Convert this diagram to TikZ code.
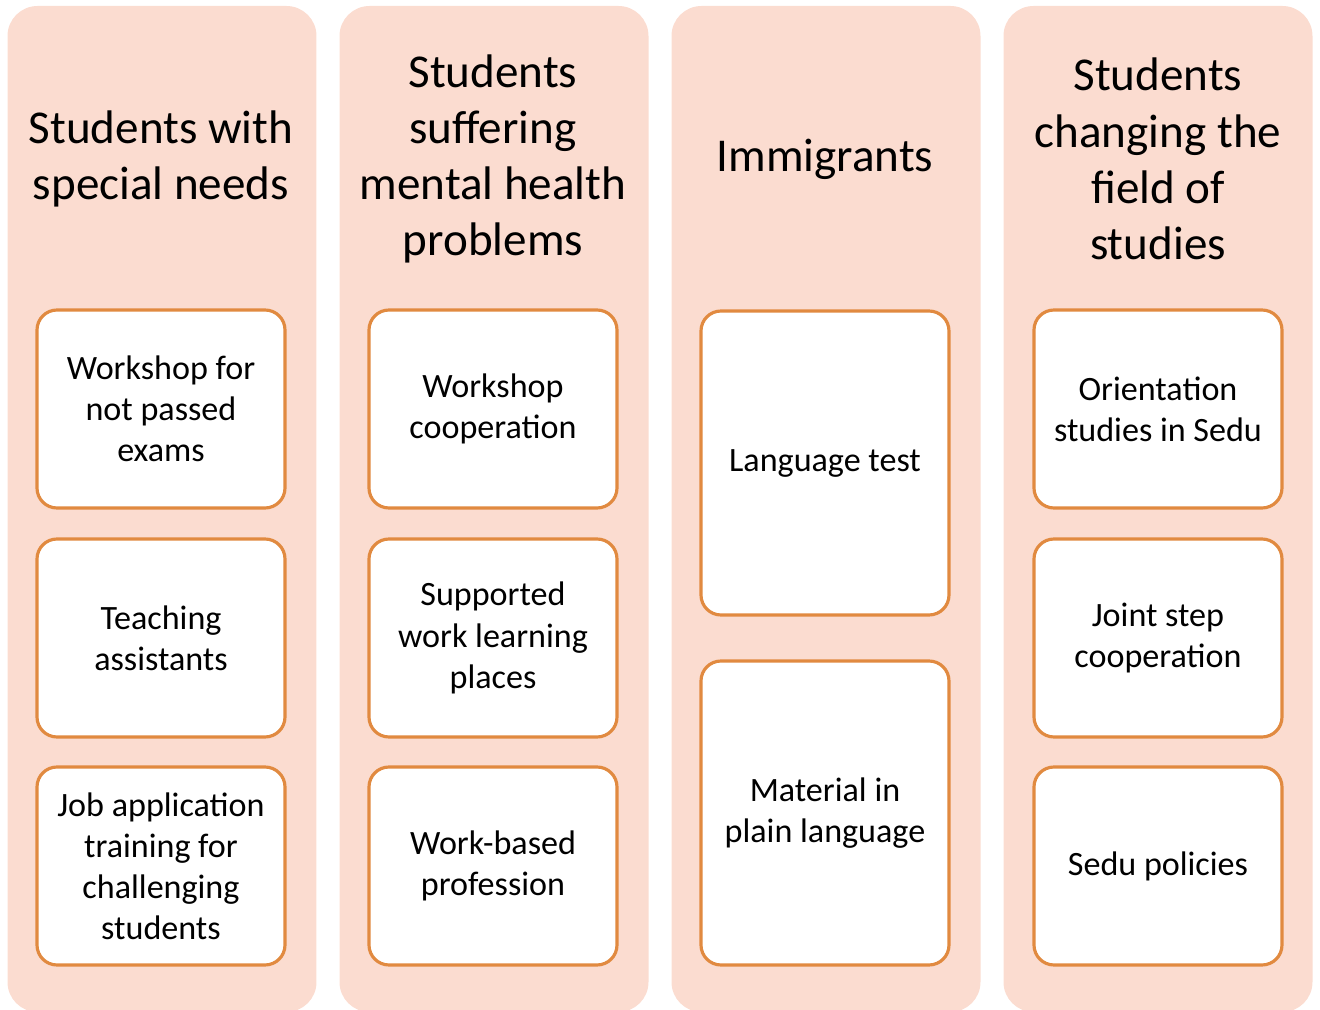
\documentclass[tikz,border=0pt]{standalone}
\usepackage{fontspec}
\setmainfont{Carlito}
\usepackage{tikz}
\definecolor{peach}{RGB}{251,220,208}
\definecolor{rim}{RGB}{225,138,64}

\begin{document}
\begin{tikzpicture}[x=0.1mm, y=-0.1mm]

\tikzstyle{group_box} = [rectangle, rounded corners=3mm, fill=peach, draw=none, minimum width=30.9mm, minimum height=100.6mm, inner sep=0pt]
\tikzstyle{group_title} = [align=center, font=\fontsize{13.4}{16}\selectfont, inner sep=0pt]
\tikzstyle{item_box} = [rectangle, rounded corners=2mm, fill=white, draw=rim, line width=0.9pt, minimum width=24.8mm, minimum height=19.8mm, align=center, font=\fontsize{9.7}{11.7}\selectfont, inner sep=0pt]
\tikzstyle{item_tall} = [item_box, minimum height=30.4mm]

\useasboundingbox (0,0) rectangle (1320,1010);

%------------------------------------------------------------
	\node[group_box] (g1) at (162,509) {};
	\node[group_box] (g2) at (494,509) {};
	\node[group_box] (g3) at (826,509) {};
	\node[group_box] (g4) at (1158,509) {};

%------------------------------------------------------------
	\node[group_title] (t1) at (161,159) {Students with\\special needs};
	\node[group_title] (t2) at (493,159) {Students\\suffering\\mental health\\problems};
	\node[group_title] (t3) at (825,159) {Immigrants};
	\node[group_title] (t4) at (1158,159) {Students\\changing the\\field of\\studies};

%------------------------------------------------------------
	\node[item_box] (b11) at (161,409) {Workshop for\\not passed\\exams};
	\node[item_box] (b12) at (161,638) {Teaching\\assistants};
	\node[item_box] (b13) at (161,866) {Job application\\training for\\challenging\\students};

	\node[item_box] (b21) at (493,409) {Workshop\\cooperation};
	\node[item_box] (b22) at (493,638) {Supported\\work learning\\places};
	\node[item_box] (b23) at (493,866) {Work-based\\profession};

	\node[item_tall] (b31) at (825,463) {Language test};
	\node[item_tall] (b32) at (825,813) {Material in\\plain language};

	\node[item_box] (b41) at (1158,409) {Orientation\\studies in Sedu};
	\node[item_box] (b42) at (1158,638) {Joint step\\cooperation};
	\node[item_box] (b43) at (1158,866) {Sedu policies};

\end{tikzpicture}
\end{document}
